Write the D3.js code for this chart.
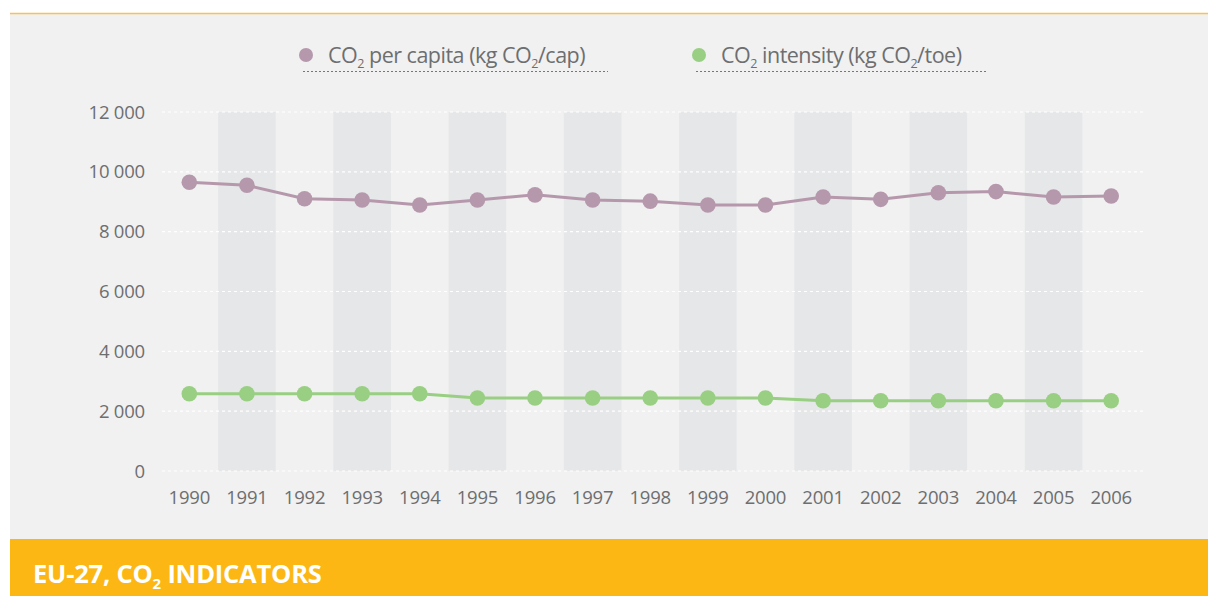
<!DOCTYPE html>
<html><head><meta charset="utf-8">
<script src="https://cdn.jsdelivr.net/npm/d3@7"></script>
<style>
html,body{margin:0;padding:0;background:#fff;}
svg text{font-family:"Open Sans","Noto Sans",sans-serif;}
</style></head>
<body>
<svg id="chart" width="1208" height="596"></svg>
<script>
const years = ["1990","1991","1992","1993","1994","1995","1996","1997","1998","1999","2000","2001","2002","2003","2004","2005","2006"];
const perCapita = [9650,9550,9100,9060,8890,9060,9230,9060,9020,8890,8890,9160,9080,9300,9340,9160,9190];
const intensity = [2580,2580,2580,2580,2580,2440,2440,2440,2440,2440,2440,2350,2350,2350,2350,2350,2350];
const yTicks = [0,2000,4000,6000,8000,10000,12000];
const seriesNames = [" per capita (kg CO", "/cap)", " intensity (kg CO", "/toe)"];
const colors = {perCapita:"#b698ac", intensity:"#99cf82"};

const svg = d3.select("#chart");
// panel
svg.append("rect").attr("x",10).attr("y",13).attr("width",1198).attr("height",526).attr("fill","#f1f1f1");
svg.append("line").attr("x1",10).attr("x2",1208).attr("y1",13.5).attr("y2",13.5).attr("stroke","#f6c350").attr("stroke-width",1.5);
// banner
svg.append("rect").attr("x",10).attr("y",539).attr("width",1198).attr("height",57).attr("fill","#fcb714");

const x = d3.scaleBand().domain(years).range([160.5,1140]).padding(0);
const y = d3.scaleLinear().domain([0,12000]).range([471,112]);
const cx = d => x(d) + x.bandwidth()/2;

// alternating bands
svg.append("g").selectAll("rect").data(years.filter((d,i)=>i%2===1)).join("rect")
  .attr("x",d=>x(d)).attr("y",y(12000)).attr("width",x.bandwidth()).attr("height",y(0)-y(12000))
  .attr("fill","#e6e7e9");

// grid lines
svg.append("g").selectAll("line").data(yTicks).join("line")
  .attr("x1",162).attr("x2",1145).attr("y1",d=>y(d)).attr("y2",d=>y(d))
  .attr("stroke","#ffffff").attr("stroke-width",1.2).attr("stroke-dasharray","3,3");

// y axis labels
const fmt = d => d3.format(",")(d).replace(/,/g," ");
svg.append("g").selectAll("text").data(yTicks).join("text")
  .attr("x",145).attr("y",d=>y(d)+6.5).attr("text-anchor","end")
  .attr("font-size",18.5).attr("fill","#6d6e70").attr("letter-spacing","-0.2")
  .text(fmt);

// x axis labels
svg.append("g").selectAll("text").data(years).join("text")
  .attr("x",d=>cx(d)).attr("y",504).attr("text-anchor","middle")
  .attr("font-size",18.5).attr("fill","#6d6e70").attr("letter-spacing","-0.2")
  .text(d=>d);

// lines
function drawSeries(vals, color){
  const line = d3.line().x((d,i)=>cx(years[i])).y(d=>y(d));
  svg.append("path").datum(vals).attr("d",line).attr("fill","none")
    .attr("stroke",color).attr("stroke-width",3);
  svg.append("g").selectAll("circle").data(vals).join("circle")
    .attr("cx",(d,i)=>cx(years[i])).attr("cy",d=>y(d)).attr("r",7.8).attr("fill",color);
}
drawSeries(perCapita, colors.perCapita);
drawSeries(intensity, colors.intensity);

// legend
function legendItem(mx, color, name1, name2, lineEnd){
  const g = svg.append("g");
  g.append("circle").attr("cx",mx).attr("cy",55).attr("r",7).attr("fill",color);
  const t = g.append("text").attr("x",mx+22).attr("y",62.5).attr("font-size",21.5).attr("fill","#6d6e70").attr("letter-spacing","-0.5");
  t.append("tspan").text("CO");
  t.append("tspan").attr("dy",5).attr("font-size",12.5).text("2");
  t.append("tspan").attr("dy",-5).text(name1);
  t.append("tspan").attr("dy",5).attr("font-size",12.5).text("2");
  t.append("tspan").attr("dy",-5).text(name2);
  g.append("line").attr("x1",mx-3).attr("x2",lineEnd).attr("y1",71.5).attr("y2",71.5)
    .attr("stroke","#777").attr("stroke-width",1).attr("stroke-dasharray","2,2");
}
legendItem(306, colors.perCapita, seriesNames[0], seriesNames[1], 608);
legendItem(699, colors.intensity, seriesNames[2], seriesNames[3], 986);

// title
const tt = svg.append("text").attr("x",33).attr("y",583).attr("font-size",25.5).attr("font-weight","bold")
  .attr("fill","#ffffff").attr("letter-spacing","-0.2");
tt.append("tspan").text("EU-27, CO");
tt.append("tspan").attr("dy",6).attr("font-size",15).text("2");
tt.append("tspan").attr("dy",-6).text(" INDICATORS");
</script>
</body></html>
